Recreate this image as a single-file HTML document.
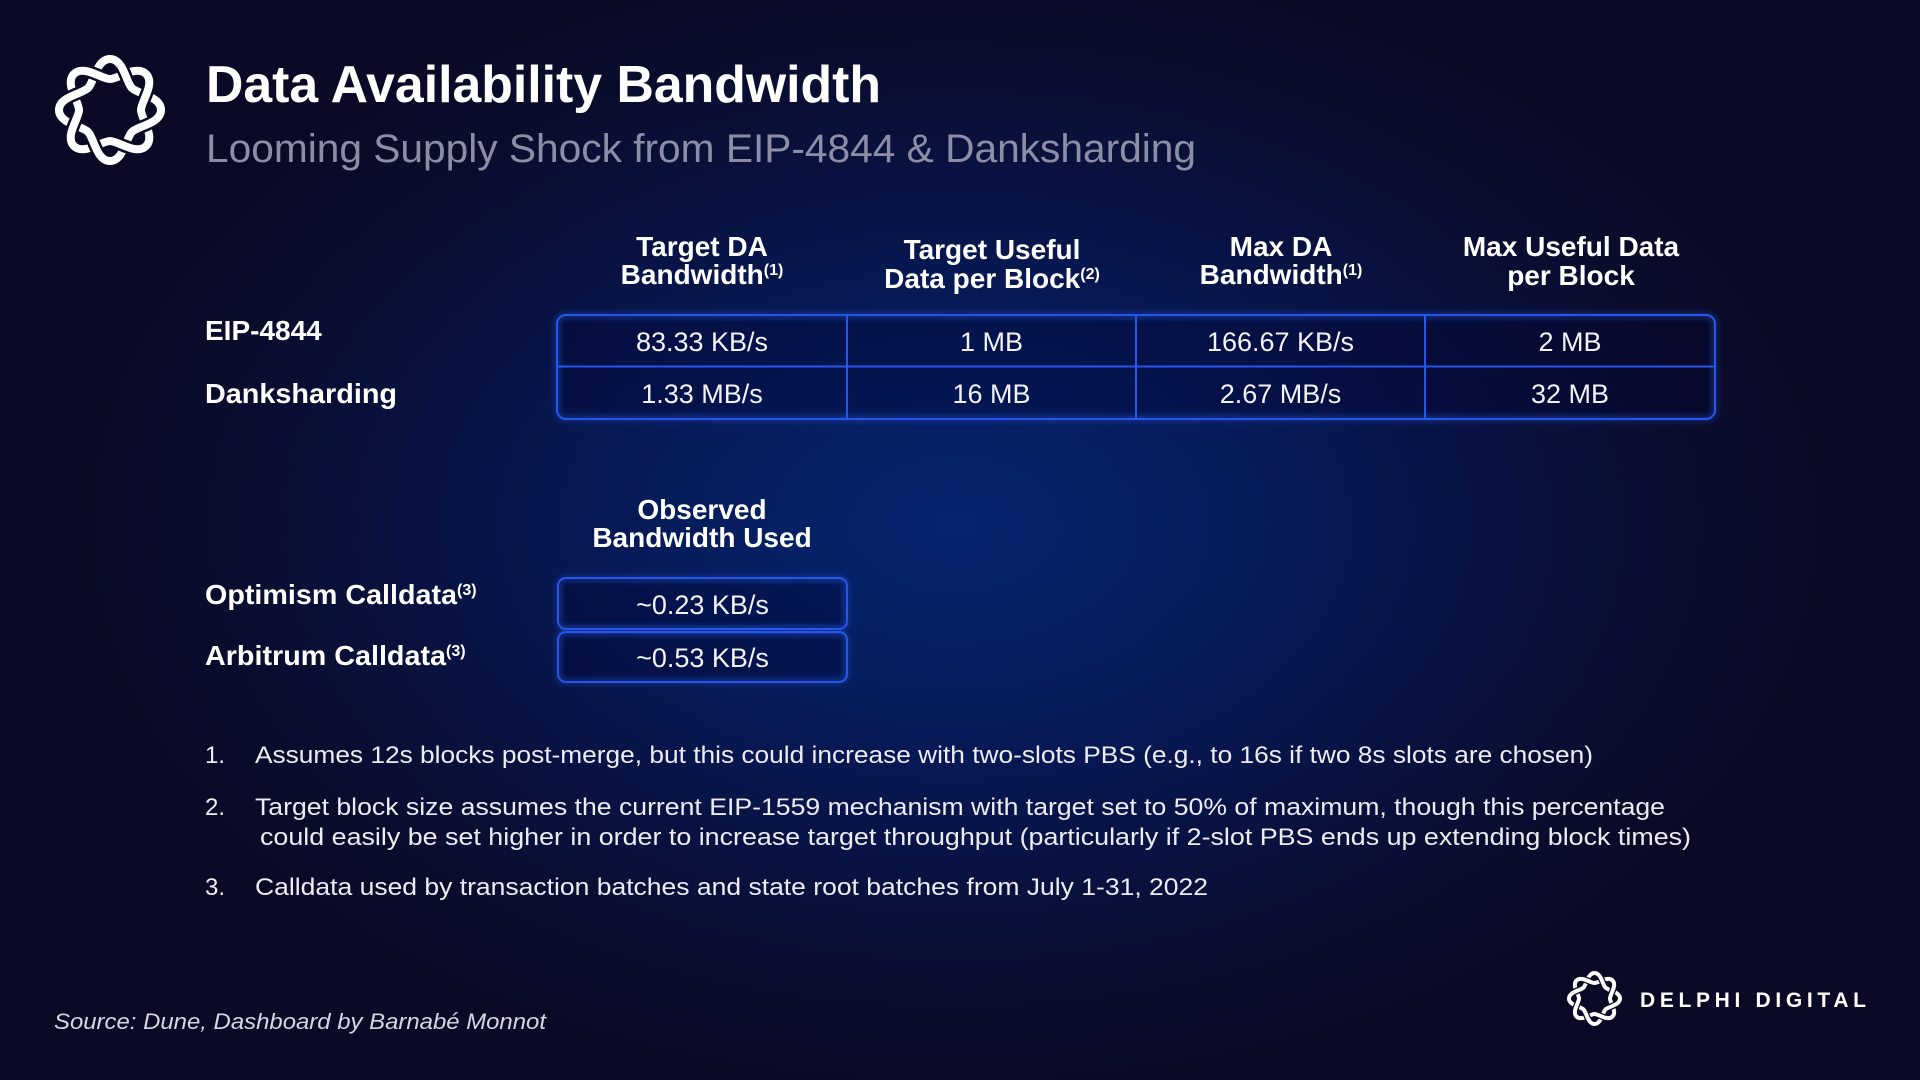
<!DOCTYPE html>
<html>
<head>
<meta charset="utf-8">
<style>
  html,body{margin:0;padding:0;}
  body{
    width:1920px;height:1080px;overflow:hidden;
    background:
      radial-gradient(ellipse 900px 580px at 955px 525px, #062470 0%, #061f62 22%, #071853 42%, #09113d 65%, #0a0c2c 85%, #0a0a26 100%),
      #0a0a26;
    font-family:"Liberation Sans", Arial, sans-serif;
  }
  svg{position:absolute;left:0;top:0;}
  text{font-family:"Liberation Sans", Arial, sans-serif;}
</style>
</head>
<body>
<svg width="1920" height="1080" viewBox="0 0 1920 1080" xmlns="http://www.w3.org/2000/svg">
  <defs>
    <path id="strand" d="M 51 0 C 51 13.5 27.7 16.1 21.9 21.9 C 16.1 27.7 13.5 51 0 51 C -13.5 51 -16.1 27.7 -21.9 21.9 C -27.7 16.1 -51 13.5 -51 0 C -51 -13.5 -27.7 -16.1 -21.9 -21.9 C -16.1 -27.7 -13.5 -51 0 -51 C 13.5 -51 16.1 -27.7 21.9 -21.9 C 27.7 -16.1 51 -13.5 51 0 Z"/>
    <clipPath id="overA">
      <circle cx="37.88" cy="15.69" r="10"/>
      <circle cx="-15.69" cy="37.88" r="10"/>
      <circle cx="-37.88" cy="-15.69" r="10"/>
      <circle cx="15.69" cy="-37.88" r="10"/>
    </clipPath>
    <g id="logo">
      <use href="#strand" fill="none" stroke="#0a0a26" stroke-width="13"/>
      <use href="#strand" fill="none" stroke="#ffffff" stroke-width="8"/>
      <g transform="rotate(45)">
        <use href="#strand" fill="none" stroke="#0a0a26" stroke-width="13"/>
        <use href="#strand" fill="none" stroke="#ffffff" stroke-width="8"/>
      </g>
      <g clip-path="url(#overA)">
        <use href="#strand" fill="none" stroke="#0a0a26" stroke-width="13"/>
        <use href="#strand" fill="none" stroke="#ffffff" stroke-width="8"/>
      </g>
    </g>
    <filter id="glow" x="-10%" y="-20%" width="120%" height="140%">
      <feGaussianBlur stdDeviation="3"/>
    </filter>
  </defs>

  <!-- Top-left logo -->
  <g transform="translate(110,110)">
    <use href="#logo"/>
  </g>

  <!-- Title -->
  <text x="206" y="102" font-size="52" font-weight="700" fill="#ffffff" textLength="675" lengthAdjust="spacingAndGlyphs">Data Availability Bandwidth</text>
  <text x="206" y="162" font-size="40" fill="#8d8ea6" textLength="990" lengthAdjust="spacingAndGlyphs">Looming Supply Shock from EIP-4844 &amp; Danksharding</text>

  <!-- Table headers -->
  <g font-size="28" font-weight="700" fill="#ffffff" text-anchor="middle">
    <text x="702" y="256">Target DA</text>
    <text x="702" y="284">Bandwidth<tspan font-size="16" dy="-9">(1)</tspan></text>
    <text x="992" y="259">Target Useful</text>
    <text x="992" y="288">Data per Block<tspan font-size="16" dy="-9">(2)</tspan></text>
    <text x="1281" y="256">Max DA</text>
    <text x="1281" y="284">Bandwidth<tspan font-size="16" dy="-9">(1)</tspan></text>
    <text x="1571" y="256">Max Useful Data</text>
    <text x="1571" y="285">per Block</text>
  </g>

  <!-- Row labels -->
  <g font-size="28" font-weight="700" fill="#ffffff">
    <text x="205" y="340">EIP-4844</text>
    <text x="205" y="403" textLength="192" lengthAdjust="spacingAndGlyphs">Danksharding</text>
  </g>

  <!-- Main table -->
  <g>
    <rect x="557" y="315" width="1158" height="104" rx="9" ry="9" fill="rgba(8,12,45,0.30)" stroke="#2a5cf0" stroke-width="5" stroke-opacity="0.35" filter="url(#glow)"/>
    <rect x="557" y="315" width="1158" height="104" rx="9" ry="9" fill="none" stroke="#2557ec" stroke-width="2"/>
    <line x1="557" y1="366.5" x2="1715" y2="366.5" stroke="#2557ec" stroke-width="2"/>
    <line x1="847" y1="315" x2="847" y2="419" stroke="#2557ec" stroke-width="2"/>
    <line x1="1136" y1="315" x2="1136" y2="419" stroke="#2557ec" stroke-width="2"/>
    <line x1="1425" y1="315" x2="1425" y2="419" stroke="#2557ec" stroke-width="2"/>
  </g>
  <g font-size="27" fill="#f2f2f7" text-anchor="middle">
    <text x="702" y="351">83.33 KB/s</text>
    <text x="991.5" y="351">1 MB</text>
    <text x="1280.5" y="351">166.67 KB/s</text>
    <text x="1570" y="351">2 MB</text>
    <text x="702" y="403">1.33 MB/s</text>
    <text x="991.5" y="403">16 MB</text>
    <text x="1280.5" y="403">2.67 MB/s</text>
    <text x="1570" y="403">32 MB</text>
  </g>

  <!-- Observed section -->
  <g font-size="28" font-weight="700" fill="#ffffff" text-anchor="middle">
    <text x="702" y="519">Observed</text>
    <text x="702" y="547">Bandwidth Used</text>
  </g>
  <g font-size="28" font-weight="700" fill="#ffffff">
    <text x="205" y="604"><tspan textLength="252" lengthAdjust="spacingAndGlyphs">Optimism Calldata</tspan><tspan font-size="16" dy="-9">(3)</tspan></text>
    <text x="205" y="665"><tspan textLength="241" lengthAdjust="spacingAndGlyphs">Arbitrum Calldata</tspan><tspan font-size="16" dy="-9">(3)</tspan></text>
  </g>
  <g>
    <rect x="558" y="578" width="289" height="51" rx="8" ry="8" fill="rgba(8,12,45,0.30)" stroke="#2a5cf0" stroke-width="5" stroke-opacity="0.35" filter="url(#glow)"/>
    <rect x="558" y="578" width="289" height="51" rx="8" ry="8" fill="none" stroke="#2557ec" stroke-width="2"/>
    <rect x="558" y="632" width="289" height="50" rx="8" ry="8" fill="rgba(8,12,45,0.30)" stroke="#2a5cf0" stroke-width="5" stroke-opacity="0.35" filter="url(#glow)"/>
    <rect x="558" y="632" width="289" height="50" rx="8" ry="8" fill="none" stroke="#2557ec" stroke-width="2"/>
  </g>
  <g font-size="27" fill="#f2f2f7" text-anchor="middle">
    <text x="702.5" y="614">~0.23 KB/s</text>
    <text x="702.5" y="667">~0.53 KB/s</text>
  </g>

  <!-- Footnotes -->
  <g font-size="24" fill="#ececf2">
    <text x="205" y="763">1.</text>
    <text x="255" y="763" textLength="1338" lengthAdjust="spacingAndGlyphs">Assumes 12s blocks post-merge, but this could increase with two-slots PBS (e.g., to 16s if two 8s slots are chosen)</text>
    <text x="205" y="815">2.</text>
    <text x="255" y="815" textLength="1410" lengthAdjust="spacingAndGlyphs">Target block size assumes the current EIP-1559 mechanism with target set to 50% of maximum, though this percentage</text>
    <text x="260" y="845" textLength="1431" lengthAdjust="spacingAndGlyphs">could easily be set higher in order to increase target throughput (particularly if 2-slot PBS ends up extending block times)</text>
    <text x="205" y="895">3.</text>
    <text x="255" y="895" textLength="953" lengthAdjust="spacingAndGlyphs">Calldata used by transaction batches and state root batches from July 1-31, 2022</text>
  </g>

  <!-- Source -->
  <text x="54" y="1029" font-size="22" font-style="italic" fill="#d6d7e3" textLength="492" lengthAdjust="spacingAndGlyphs">Source: Dune, Dashboard by Barnabé Monnot</text>

  <!-- Delphi Digital brand -->
  <g transform="translate(1594.5,998.5) scale(0.5)">
    <use href="#logo"/>
  </g>
  <text x="1640" y="1007" font-size="21" font-weight="700" fill="#ffffff" textLength="226" lengthAdjust="spacing">DELPHI DIGITAL</text>
</svg>
</body>
</html>
